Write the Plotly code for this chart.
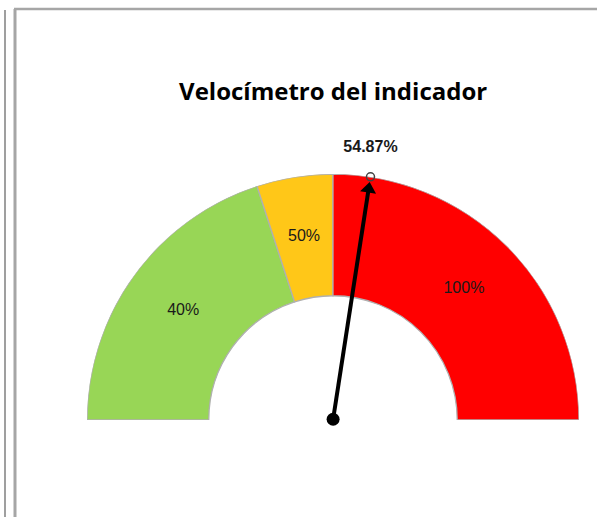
import plotly.graph_objects as go

# gauge bands (percent of the dial) and their labels
band_start = [0, 40, 50]
band_end = [40, 50, 100]
band_labels = ['40%', '50%', '100%']
band_colors = ['#98D656', '#FFC718', '#FF0000']
needle_value = 54.87
needle_label = '54.87%'

hole = 0.505


def to_theta(p):
    # 0% on the left, 100% on the right of the half dial
    return 180 - p * 1.8


fig = go.Figure()

mids = [(to_theta(a) + to_theta(b)) / 2 for a, b in zip(band_start, band_end)]
widths = [(b - a) * 1.8 for a, b in zip(band_start, band_end)]

fig.add_trace(go.Barpolar(
    theta=mids, width=widths, r=[1 - hole] * 3, base=[hole] * 3,
    marker=dict(color=band_colors, line=dict(color='#B0B0B0', width=1.3)),
    hoverinfo='skip', showlegend=False))

fig.add_trace(go.Scatterpolar(
    r=[(1 + hole) / 2] * 3, theta=mids, mode='text', text=band_labels,
    textfont=dict(family='Liberation Sans, Arial', size=16, color='#1a1a1a'),
    hoverinfo='skip', showlegend=False))

nt = to_theta(needle_value)
# needle shaft
fig.add_trace(go.Scatterpolar(
    r=[0.003, 0.94], theta=[nt, nt], mode='lines',
    line=dict(color='black', width=4),
    cliponaxis=False, hoverinfo='skip', showlegend=False))

# arrow head
fig.add_trace(go.Scatterpolar(
    r=[0.95], theta=[nt], mode='markers',
    marker=dict(symbol='triangle-up', size=14, color='black', angle=90 - nt,
                line=dict(width=0)),
    cliponaxis=False, hoverinfo='skip', showlegend=False))

# hub dot
fig.add_trace(go.Scatterpolar(
    r=[0.003], theta=[nt], mode='markers',
    marker=dict(symbol='circle', size=13, color='black'),
    cliponaxis=False, hoverinfo='skip', showlegend=False))

fig.add_trace(go.Scatterpolar(
    r=[1.0], theta=[nt], mode='markers',
    marker=dict(symbol='circle-open', size=8, color='#444444', line=dict(width=1.5)),
    cliponaxis=False, hoverinfo='skip', showlegend=False))

# value label above the tip
fig.add_trace(go.Scatterpolar(
    r=[1.0], theta=[nt], mode='markers+text', text=['<b>' + needle_label + '</b>'],
    textposition='top center',
    textfont=dict(family='Liberation Sans, Arial', size=16, color='#1a1a1a'),
    marker=dict(size=32, opacity=0),
    cliponaxis=False, hoverinfo='skip', showlegend=False))

fig.update_layout(
    width=597, height=517,
    margin=dict(l=0, r=0, t=0, b=0),
    paper_bgcolor='white',
    title=dict(text='<b>Velocímetro del indicador</b>', x=0.558, xanchor='center',
               y=0.822, yanchor='middle',
               font=dict(family='Open Sans', size=24, color='black')),
    polar=dict(
        domain=dict(x=[87 / 597, 579 / 597], y=[97 / 517, 343 / 517]),
        sector=[0, 180], hole=0, bgcolor='rgba(0,0,0,0)',
        radialaxis=dict(range=[0, 1], visible=False),
        angularaxis=dict(visible=False, direction='counterclockwise', rotation=0)),
    shapes=[
        dict(type='line', xref='paper', yref='paper', x0=5 / 597, x1=5 / 597,
             y0=0, y1=1 - 10 / 517, line=dict(color='#7F7F7F', width=1.5)),
        dict(type='line', xref='paper', yref='paper', x0=15 / 597, x1=15 / 597,
             y0=0, y1=1 - 9 / 517, line=dict(color='#A6A6A6', width=3)),
        dict(type='line', xref='paper', yref='paper', x0=14 / 597, x1=1,
             y0=1 - 9 / 517, y1=1 - 9 / 517, line=dict(color='#A6A6A6', width=2.5)),
    ],
)

fig.write_html("out.html", config={'displayModeBar': False},
               post_script="document.body.style.margin='0px';")
